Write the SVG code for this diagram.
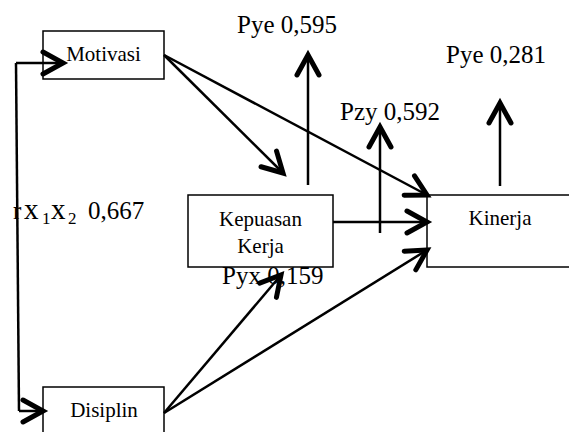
<svg xmlns="http://www.w3.org/2000/svg" width="569" height="432" viewBox="0 0 569 432">
<style>
.box{fill:#fff;stroke:#000;stroke-width:1.5}
.nt{font-size:21px;fill:#000;text-anchor:middle}
.lb{font-size:25px;fill:#000}
.ln{fill:none;stroke:#000;stroke-width:2.5;marker-end:url(#ah)}
.pl{fill:none;stroke:#000;stroke-width:2.5}
</style>
<defs>
<marker id="ah" markerUnits="userSpaceOnUse" orient="auto" markerWidth="30" markerHeight="30" viewBox="-26 -15 30 30" refX="0" refY="0" overflow="visible">
<path d="M-20,-11 L0,0 L-20,11" fill="none" stroke="#000" stroke-width="5" stroke-linecap="round" stroke-linejoin="miter"/>
</marker>
</defs>
<rect width="569" height="432" fill="#fff"/>
<g font-family="Liberation Serif, Times New Roman, serif">
<g id="motivasi"><rect class="box" x="43" y="31" width="121" height="48"/><text class="nt" x="103.5" y="61">Motivasi</text></g>
<g id="disiplin"><rect class="box" x="43" y="387" width="121" height="50"/><text class="nt" x="104" y="417">Disiplin</text></g>
<g id="kepuasan"><rect class="box" x="188" y="195" width="145" height="72"/><text class="nt" x="260.5" y="226">Kepuasan</text><text class="nt" x="260.5" y="253">Kerja</text></g>
<g id="kinerja"><rect class="box" x="427" y="195" width="150" height="72"/><text class="nt" x="500" y="225">Kinerja</text></g>
<g id="labels">
<text class="lb" x="237" y="33">Pye 0,595</text>
<text class="lb" x="446" y="63">Pye 0,281</text>
<text class="lb" x="340" y="120">Pzy 0,592</text>
<text class="lb" x="222" y="284">Pyx 0,159</text>
<text class="lb" y="219"><tspan x="13">r</tspan><tspan x="24" font-size="29">x</tspan><tspan x="42" y="224" font-size="17">1</tspan><tspan x="51" y="219" font-size="29">x</tspan><tspan x="68" y="224" font-size="17">2</tspan><tspan x="88" y="219">0,667</tspan></text>
</g>
</g>
<g id="connectors">
<path class="ln" d="M16,63 L63,63"/>
<path class="pl" d="M16,63 L19,411"/>
<path class="ln" d="M19,411 L43,411"/>
<path class="ln" d="M164,55 L283,173"/>
<path class="ln" d="M164,55 L427,195"/>
<path class="ln" d="M333,222 L427,222"/>
<path class="ln" d="M164,413 L281,275"/>
<path class="ln" d="M164,413 L427,250"/>
<path class="ln" d="M308,185 L308,55"/>
<path class="ln" d="M380,233 L380,127"/>
<path class="ln" d="M500,186 L500,103"/>
</g>
</svg>
